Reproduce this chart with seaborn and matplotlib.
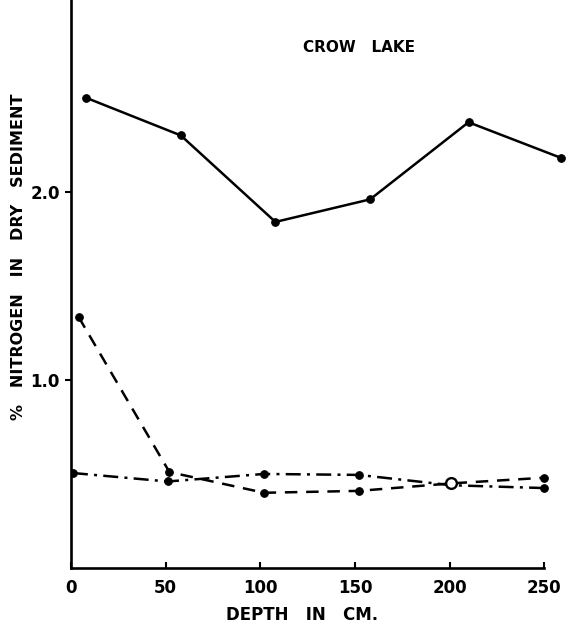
import matplotlib
matplotlib.use("Agg")
import matplotlib.pyplot as plt
import seaborn as sns
import pandas as pd

# ---- data ----
solid_depth = [8, 58, 108, 158, 210, 259]
solid_n = [2.50, 2.30, 1.84, 1.96, 2.37, 2.18]

dashed_depth = [4, 52, 102, 152, 201, 250]
dashed_n = [1.335, 0.51, 0.40, 0.41, 0.45, 0.48]

dashdot_depth = [1, 51, 102, 152, 201, 250]
dashdot_n = [0.505, 0.46, 0.50, 0.495, 0.44, 0.425]

open_depth = [201]
open_n = [0.45]

x_ticks = [0, 50, 100, 150, 200, 250]
y_ticks = [1.0, 2.0]
y_tick_labels = ["1.0", "2.0"]

sns.set_style("ticks", {"axes.edgecolor": "black", "text.color": "black",
                        "axes.labelcolor": "black", "xtick.color": "black",
                        "ytick.color": "black"})
plt.rcParams['font.family'] = ['DejaVu Sans']

fig = plt.figure(figsize=(5.66, 6.27), dpi=100)
ax = fig.add_axes([71/566, 59/627, 495/566, 568/627])

lw = 1.8
common = dict(color="black", linewidth=lw, marker="o", markersize=5.5,
              markeredgecolor="black", markerfacecolor="black",
              sort=False, estimator=None, ax=ax)

sns.lineplot(x=solid_depth, y=solid_n, linestyle="-", **common)
sns.lineplot(x=dashed_depth, y=dashed_n, linestyle=(0, (5, 3.5)),
             markevery=[0, 1, 2, 3, 5], **common)
sns.lineplot(x=dashdot_depth, y=dashdot_n, linestyle=(0, (6, 2.5, 1.2, 2.5)),
             markevery=[0, 1, 2, 3, 5], **common)
sns.scatterplot(x=open_depth, y=open_n, s=60, facecolor="white",
                edgecolor="black", linewidth=1.7, zorder=5, ax=ax)

ax.set_xlim(0, 261.5)
ax.set_ylim(0, 3.02)
sns.despine(ax=ax)
ax.spines['left'].set_linewidth(1.9)
ax.spines['bottom'].set_linewidth(1.9)
ax.spines['bottom'].set_bounds(0, 250)

ax.set_xticks(x_ticks)
ax.set_xticklabels([str(t) for t in x_ticks], fontsize=12, fontweight="bold")
ax.set_yticks(y_ticks)
ax.set_yticklabels(y_tick_labels, fontsize=12, fontweight="bold")
ax.tick_params(axis="x", direction="in", length=4, width=1.5, pad=8, colors="black")
ax.tick_params(axis="y", direction="out", length=4, width=1.5, pad=4, colors="black")

ax.set_xlabel("DEPTH   IN   CM.", fontsize=12, fontweight="bold", color="black")
ax.xaxis.set_label_coords(0.467, -0.067)
ax.set_ylabel("%   NITROGEN   IN   DRY   SEDIMENT", fontsize=11.5,
              fontweight="bold", color="black")
ax.yaxis.set_label_coords(-0.091, 0.548)

ax.text(0.582, 0.917, "CROW   LAKE", transform=ax.transAxes, ha="center",
        va="center", fontsize=11, fontweight="bold", color="black")

fig.savefig("out.png", dpi=100)
